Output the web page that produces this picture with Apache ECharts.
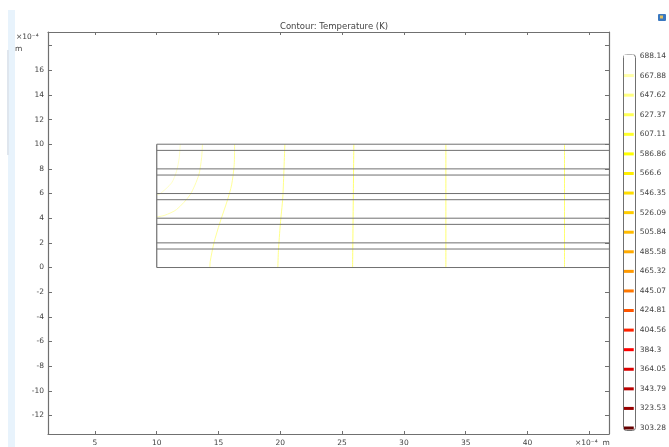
<!DOCTYPE html>
<html><head><meta charset="utf-8">
<style>html,body{margin:0;padding:0;background:#fff}#c{width:669px;height:447px;filter:blur(0.75px)}</style>
<script src="https://cdn.jsdelivr.net/npm/echarts@6/dist/echarts.min.js"></script>
</head><body><div id="c"></div>
<script>
var title = 'Contour: Temperature (K)';
var xTicks = [5,10,15,20,25,30,35,40,45];
var xLabels = [5,10,15,20,25,30,35,40];
var yTicks = [-12,-10,-8,-6,-4,-2,0,2,4,6,8,10,12,14,16,18];
var yLabels = [-12,-10,-8,-6,-4,-2,0,2,4,6,8,10,12,14,16];
var layerY = [0,1.5,2,3.5,4,5.5,6,7.5,8,9.5,10];
var layerStart = 10, layerEnd = 46.6;
var contour1 = [[11.9,10],[11.82,8.9],[11.6,7.8],[11.2,6.86],[10.26,5.97],[10,5.9]];
var contour2 = [[13.7,10],[13.63,8.9],[13.4,7.5],[12.7,5.9],[11.6,4.7],[10.66,4.24],[10,4.1]];
var contour3 = [[16.3,10],[16.27,8.35],[16.06,6.7],[15.7,5.4],[15.1,3.6],[14.63,2],[14.33,0.5],[14.3,0]];
var contour4 = [[20.37,10],[20.3,8.1],[20.2,5.65],[20,3.5],[19.85,1.4],[19.8,0]];
var contour5 = [[25.95,10],[25.85,0]];
var contour6 = [[33.4,10],[33.4,0]];
var contour7 = [[43,10],[43,0]];
var contourColors = ['#ffffc8','#ffffb0','#ffff98','#ffff88','#ffff70','#ffff70','#ffff70'];
var levels = ['688.14','667.88','647.62','627.37','607.11','586.86','566.6','546.35','526.09','505.84','485.58','465.32','445.07','424.81','404.56','384.3','364.05','343.79','323.53','303.28'];
var levelColors = ['#ffffff','#ffffa8','#ffff80','#ffff55','#ffff2a','#ffff00','#ffee00','#ffdd00','#ffcc00','#ffbb00','#ffaa00','#ff9900','#ff7700','#ff5500','#ff2200','#ff0000','#dd0000','#bb0000','#990000','#660000'];

var font = 'DejaVu Sans', txt = '#444', frame = '#707070';
function mainX(pos, labels){return {type:'value',gridIndex:0,position:pos,min:1.2,max:46.6,
  axisLine:{show:true,onZero:false,lineStyle:{color:frame,width:1.2}},splitLine:{show:false},
  axisTick:{show:true,inside:true,length:3,customValues:xTicks,lineStyle:{color:frame}},
  axisLabel:{show:!!labels,customValues:labels||xTicks,margin:5,fontSize:7.5,fontFamily:font,color:txt}};}
function mainY(pos, labels){return {type:'value',gridIndex:0,position:pos,min:-13.5,max:19.1,
  axisLine:{show:true,onZero:false,lineStyle:{color:frame,width:1.2}},splitLine:{show:false},
  axisTick:{show:true,inside:true,length:4,customValues:yTicks,lineStyle:{color:frame}},
  axisLabel:{show:!!labels,customValues:labels||yTicks,margin:4,fontSize:7.5,fontFamily:font,color:txt}};}

var series = [];
[contour1,contour2,contour3,contour4,contour5,contour6,contour7].forEach(function(d,i){
  series.push({type:'line',xAxisIndex:0,yAxisIndex:0,data:d,smooth:0.25,showSymbol:false,silent:true,z:2,
    lineStyle:{color:contourColors[i],width:1}});
});
layerY.forEach(function(y){
  series.push({type:'line',xAxisIndex:0,yAxisIndex:0,data:[[layerStart,y],[layerEnd,y]],showSymbol:false,silent:true,z:3,
    lineStyle:{color:'#707070',width:1}});
});
series.push({type:'line',xAxisIndex:0,yAxisIndex:0,data:[[layerStart,0],[layerStart,10]],showSymbol:false,silent:true,z:3,
  lineStyle:{color:'#707070',width:1.2}});
series.push({type:'bar',xAxisIndex:2,yAxisIndex:2,barWidth:3,clip:false,silent:true,z:3,
  data:levels.map(function(l,i){return {value:1,itemStyle:{color:levelColors[i]}};})});

var chart = echarts.init(document.getElementById('c'),null,{renderer:'canvas'});
chart.setOption({
  animation:false,backgroundColor:'#fff',
  title:{text:title,left:329,top:17,textAlign:'center',textStyle:{fontSize:8.5,lineHeight:10,fontWeight:'normal',fontFamily:font,color:txt}},
  grid:[{left:48,right:60,top:32,bottom:12},{left:624,width:11,top:56,height:372}],
  xAxis:[mainX('bottom',xLabels),mainX('top'),
    {type:'value',gridIndex:1,min:0,max:1,show:false}],
  yAxis:[mainY('left',yLabels),mainY('right'),
    {type:'category',gridIndex:1,data:levels,inverse:true,boundaryGap:false,position:'right',
     axisLine:{show:false},axisTick:{show:false},splitLine:{show:false},
     axisLabel:{show:true,interval:0,margin:6,fontSize:7.5,fontFamily:font,color:txt,showMinLabel:true,showMaxLabel:true}}],
  series:series,
  graphic:[
    {type:'rect',shape:{x:8,y:10,width:7,height:437},style:{fill:'#e8f3fc'},silent:true},
    {type:'rect',shape:{x:7,y:50,width:2,height:105},style:{fill:'#dfe6ee'},silent:true},
    {type:'rect',shape:{x:623.5,y:54.5,width:12,height:376,r:3},style:{fill:'none',stroke:frame,lineWidth:1},silent:true},
    {type:'rect',shape:{x:658,y:14,width:8,height:7,r:1},style:{fill:'#3a78c0'},silent:true},
    {type:'rect',shape:{x:660,y:15.5,width:3,height:3},style:{fill:'#e0c060'},silent:true},
    {type:'text',x:16,y:33,style:{text:'×10⁻⁴',fontSize:7.5,fontFamily:font,fill:txt},silent:true},
    {type:'text',x:15,y:45,style:{text:'m',fontSize:7.5,fontFamily:font,fill:txt},silent:true},
    {type:'text',x:575,y:439,style:{text:'×10⁻⁴  m',fontSize:7.5,fontFamily:font,fill:txt},silent:true}
  ]
});
</script></body></html>
